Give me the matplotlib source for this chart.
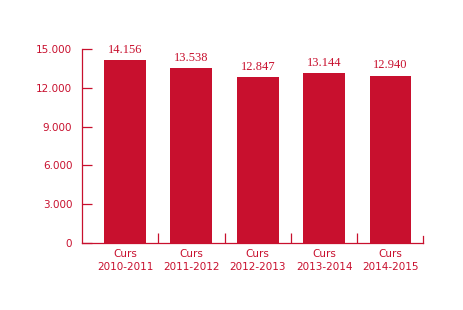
import numpy as np
import matplotlib
matplotlib.use('Agg')
import matplotlib.pyplot as plt
from matplotlib.ticker import FixedLocator, FuncFormatter

# Data
cursos = ['2010-2011', '2011-2012', '2012-2013', '2013-2014', '2014-2015']
alumnes = [14156, 13538, 12847, 13144, 12940]
yticks = [0, 3000, 6000, 9000, 12000, 15000]

red = '#C8102E'
plt.rcParams['font.family'] = ['DejaVu Sans']

fig = plt.figure(figsize=(4.64, 3.10), dpi=100)
ax = fig.add_axes([82 / 464, 67 / 310, (423 - 82) / 464, 194 / 310])

x = np.arange(len(cursos))
ax.bar(x, alumnes, width=0.63, color=red)

# value labels above the bars
for xi, v in zip(x, alumnes):
    s = f"{v:,}".replace(',', '.')
    ax.annotate(s, (xi, v), xytext=(0, 3), textcoords='offset points',
                ha='center', va='bottom', color=red, fontsize=9,
                family='Liberation Serif')

ax.set_xlim(-0.648, 4.49)
ax.set_ylim(0, 15000)

# y axis
ax.yaxis.set_major_locator(FixedLocator(yticks))
ax.yaxis.set_major_formatter(FuncFormatter(lambda v, p: f"{int(v):,}".replace(',', '.')))
ax.tick_params(axis='y', direction='in', length=7, width=0.9, colors=red,
               labelsize=7.5, pad=7)

# x axis: labels at bar centres, tick marks at category boundaries
ax.set_xticks(x)
ax.set_xticklabels(['Curs\n' + c for c in cursos], linespacing=1.45)
ax.tick_params(axis='x', which='major', length=0, colors=red, labelsize=7.5, pad=4)
ax.set_xticks(x[1:] - 0.5 + 0.003, minor=True)
ax.tick_params(axis='x', which='minor', direction='in', length=7, width=0.9, color=red)
# last boundary tick at the axis end
ax.axvline(4.49, ymin=0, ymax=7 / 194, color=red, lw=0.9, clip_on=False)

for side in ['top', 'right']:
    ax.spines[side].set_visible(False)
for side in ['left', 'bottom']:
    ax.spines[side].set_color(red)
    ax.spines[side].set_linewidth(0.9)

fig.savefig('out.png', dpi=100)
